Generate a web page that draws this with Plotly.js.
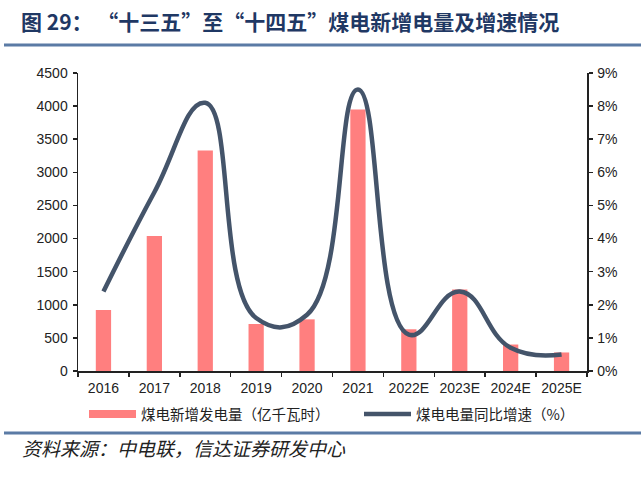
<!DOCTYPE html>
<html><head><meta charset="utf-8">
<script src="https://cdn.plot.ly/plotly-3.0.1.min.js"></script>
<style>html,body{margin:0;padding:0;background:#fff;}</style>
</head><body>
<div id="chart" style="width:641px;height:479px;"></div>
<script>
// ---- data ----
const years = ['2016','2017','2018','2019','2020','2021','2022E','2023E','2024E','2025E'];
const newGeneration = [920, 2040, 3330, 710, 780, 3950, 630, 1230, 400, 280];   // 亿千瓦时
const growthRate = [2.4, 5.4, 8.1, 1.6, 1.7, 8.5, 1.1, 2.4, 0.7, 0.5];          // %
const leftTicks = [0, 500, 1000, 1500, 2000, 2500, 3000, 3500, 4000, 4500];
const rightTicks = [0, 1, 2, 3, 4, 5, 6, 7, 8, 9];
const barName = '煤电新增发电量（亿千瓦时）';
const lineName = '煤电电量同比增速（%）';
const titleText = '<b>图 29： “十三五”至“十四五”煤电新增电量及增速情况</b>';
const sourceText = '资料来源：中电联，信达证券研发中心';

const barColor = '#FF7F7F';
const lineColor = '#44546A';
const latin = 'Liberation Sans, Arial, sans-serif';
const cjk = 'Noto Sans CJK SC, Liberation Sans, sans-serif';

const traces = [
  {type:'bar', x:years, y:newGeneration, name:barName, marker:{color:barColor},
   width:0.3, showlegend:false, hoverinfo:'x+y'},
  {type:'scatter', mode:'lines', x:[null], y:[null], name:barName, legend:'legend',
   line:{color:barColor, width:8}, hoverinfo:'skip'},
  {type:'scatter', mode:'lines', x:years, y:growthRate, name:lineName, yaxis:'y2', legend:'legend2',
   line:{color:lineColor, width:4.5, shape:'spline', smoothing:1.3}}
];

const axisCommon = {showgrid:false, zeroline:false, showline:true, linecolor:'#222', linewidth:1.5,
  ticks:'outside', ticklen:4, tickcolor:'#222', tickwidth:1.5,
  tickfont:{family:latin, size:14, color:'#222'}};

const legendCommon = {orientation:'h', xanchor:'left', y:(371-398)/298, yanchor:'top',
  font:{family:cjk, size:14.5, color:'#222'}, itemwidth:47, bgcolor:'rgba(0,0,0,0)'};

const layout = {
  width:641, height:479,
  margin:{l:78, r:54, t:73, b:108, pad:0},
  paper_bgcolor:'#fff', plot_bgcolor:'#fff',
  bargap:0.7,
  title:{text:titleText, x:21/641, xanchor:'left', xref:'container',
         y:1-23/479, yanchor:'middle', yref:'container',
         font:{family:cjk, size:21, color:'#1F3864'}},
  xaxis:Object.assign({}, axisCommon, {type:'category', tickson:'boundaries', ticklabelstandoff:4}),
  yaxis:Object.assign({}, axisCommon, {range:[0,4500], tickvals:leftTicks, ticktext:leftTicks.map(String), ticklabelstandoff:2}),
  yaxis2:Object.assign({}, axisCommon, {overlaying:'y', side:'right', range:[0,9],
          tickvals:rightTicks, ticktext:rightTicks.map(v=>v+'%'), ticklabelstandoff:2}),
  showlegend:true,
  legend:Object.assign({}, legendCommon, {x:(84-78)/509}),
  legend2:Object.assign({}, legendCommon, {x:(359-78)/509}),
  shapes:[
    {type:'line', xref:'paper', yref:'paper', x0:(4-78)/509, x1:(641-78)/509,
     y0:(371-45)/298, y1:(371-45)/298, line:{color:'#5B7BA5', width:3}},
    {type:'line', xref:'paper', yref:'paper', x0:(4-78)/509, x1:(641-78)/509,
     y0:(371-433)/298, y1:(371-433)/298, line:{color:'#5B7BA5', width:3}}
  ],
  annotations:[
    {text:sourceText, xref:'paper', yref:'paper', x:(20-78)/509, xanchor:'left',
     y:(371-447)/298, yanchor:'middle', showarrow:false,
     font:{family:cjk, size:19, color:'#222', style:'italic'}}
  ]
};

Plotly.newPlot('chart', traces, layout, {displayModeBar:false, staticPlot:true});
</script>
</body></html>
